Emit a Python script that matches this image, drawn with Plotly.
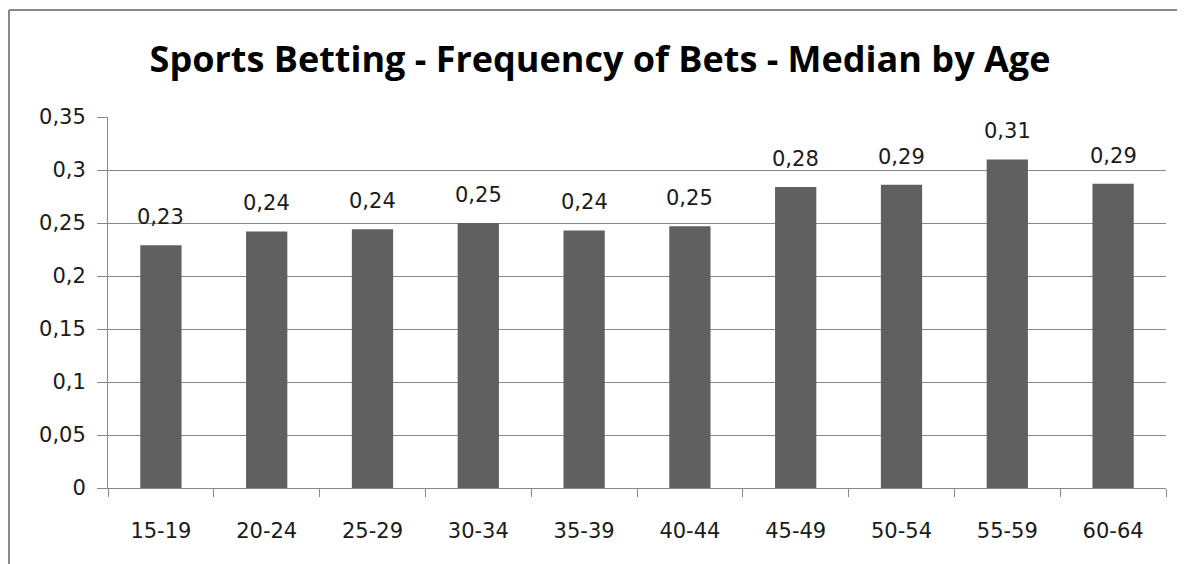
import plotly.graph_objects as go

categories = ["15-19", "20-24", "25-29", "30-34", "35-39", "40-44", "45-49", "50-54", "55-59", "60-64"]
values = [0.229, 0.242, 0.244, 0.250, 0.243, 0.247, 0.284, 0.286, 0.310, 0.287]
y_ticks = [0, 0.05, 0.1, 0.15, 0.2, 0.25, 0.3, 0.35]

# The page body has an 8px default margin, so the figure is drawn 8px in.
OFF = 8
W, H = 1185 - OFF, 564 - OFF
ml, mr, mt, mb = 108 - OFF, 19, 117 - OFF, 76
pw, ph = W - ml - mr, H - mt - mb

def px_x(p):
    return (p - ml) / pw

def px_y(p):
    return 1 - (p - mt) / ph

LABEL_FONT = dict(family="DejaVu Sans", size=21, color="#1a1a1a")

fig = go.Figure(go.Bar(
    x=categories, y=values,
    marker=dict(color="#606060", line=dict(width=0)),
    hoverinfo="x+y",
))

for c, v in zip(categories, values):
    fig.add_annotation(x=c, y=v, text=f"{v:.2f}".replace(".", ","),
                       showarrow=False, yanchor="bottom", yshift=14,
                       font=LABEL_FONT)

border = "#888888"
fig.update_layout(
    width=W, height=H,
    margin=dict(l=ml, r=mr, t=mt, b=mb, autoexpand=False),
    paper_bgcolor="white", plot_bgcolor="white",
    separators=", ",
    bargap=0.61,
    showlegend=False,
    title=dict(text="<b>Sports Betting - Frequency of Bets - Median by Age</b>",
               x=(600 - OFF) / W, xref="container", xanchor="center",
               y=1 - 51 / H, yref="container", yanchor="middle",
               font=dict(family="Open Sans", size=36, color="black")),
    font=LABEL_FONT,
    xaxis=dict(showline=True, linecolor=border, linewidth=1,
               ticks="outside", tickson="boundaries", ticklen=8, tickcolor=border,
               showgrid=False, ticklabelstandoff=24, automargin=False,
               tickfont=LABEL_FONT),
    yaxis=dict(range=[0, 0.35], tickvals=y_ticks,
               showline=True, linecolor=border, linewidth=1,
               ticks="outside", ticklen=10, tickcolor=border,
               showgrid=True, gridcolor=border, gridwidth=1,
               zeroline=False, ticklabelstandoff=7, automargin=False,
               tickfont=LABEL_FONT),
    shapes=[
        dict(type="line", xref="paper", yref="paper",
             x0=px_x(1), x1=px_x(1), y0=px_y(2), y1=px_y(H + 5),
             line=dict(color=border, width=2)),
        dict(type="line", xref="paper", yref="paper",
             x0=px_x(1), x1=px_x(W + 5), y0=px_y(2), y1=px_y(2),
             line=dict(color=border, width=2)),
    ],
)

fig.write_html("out.html")
